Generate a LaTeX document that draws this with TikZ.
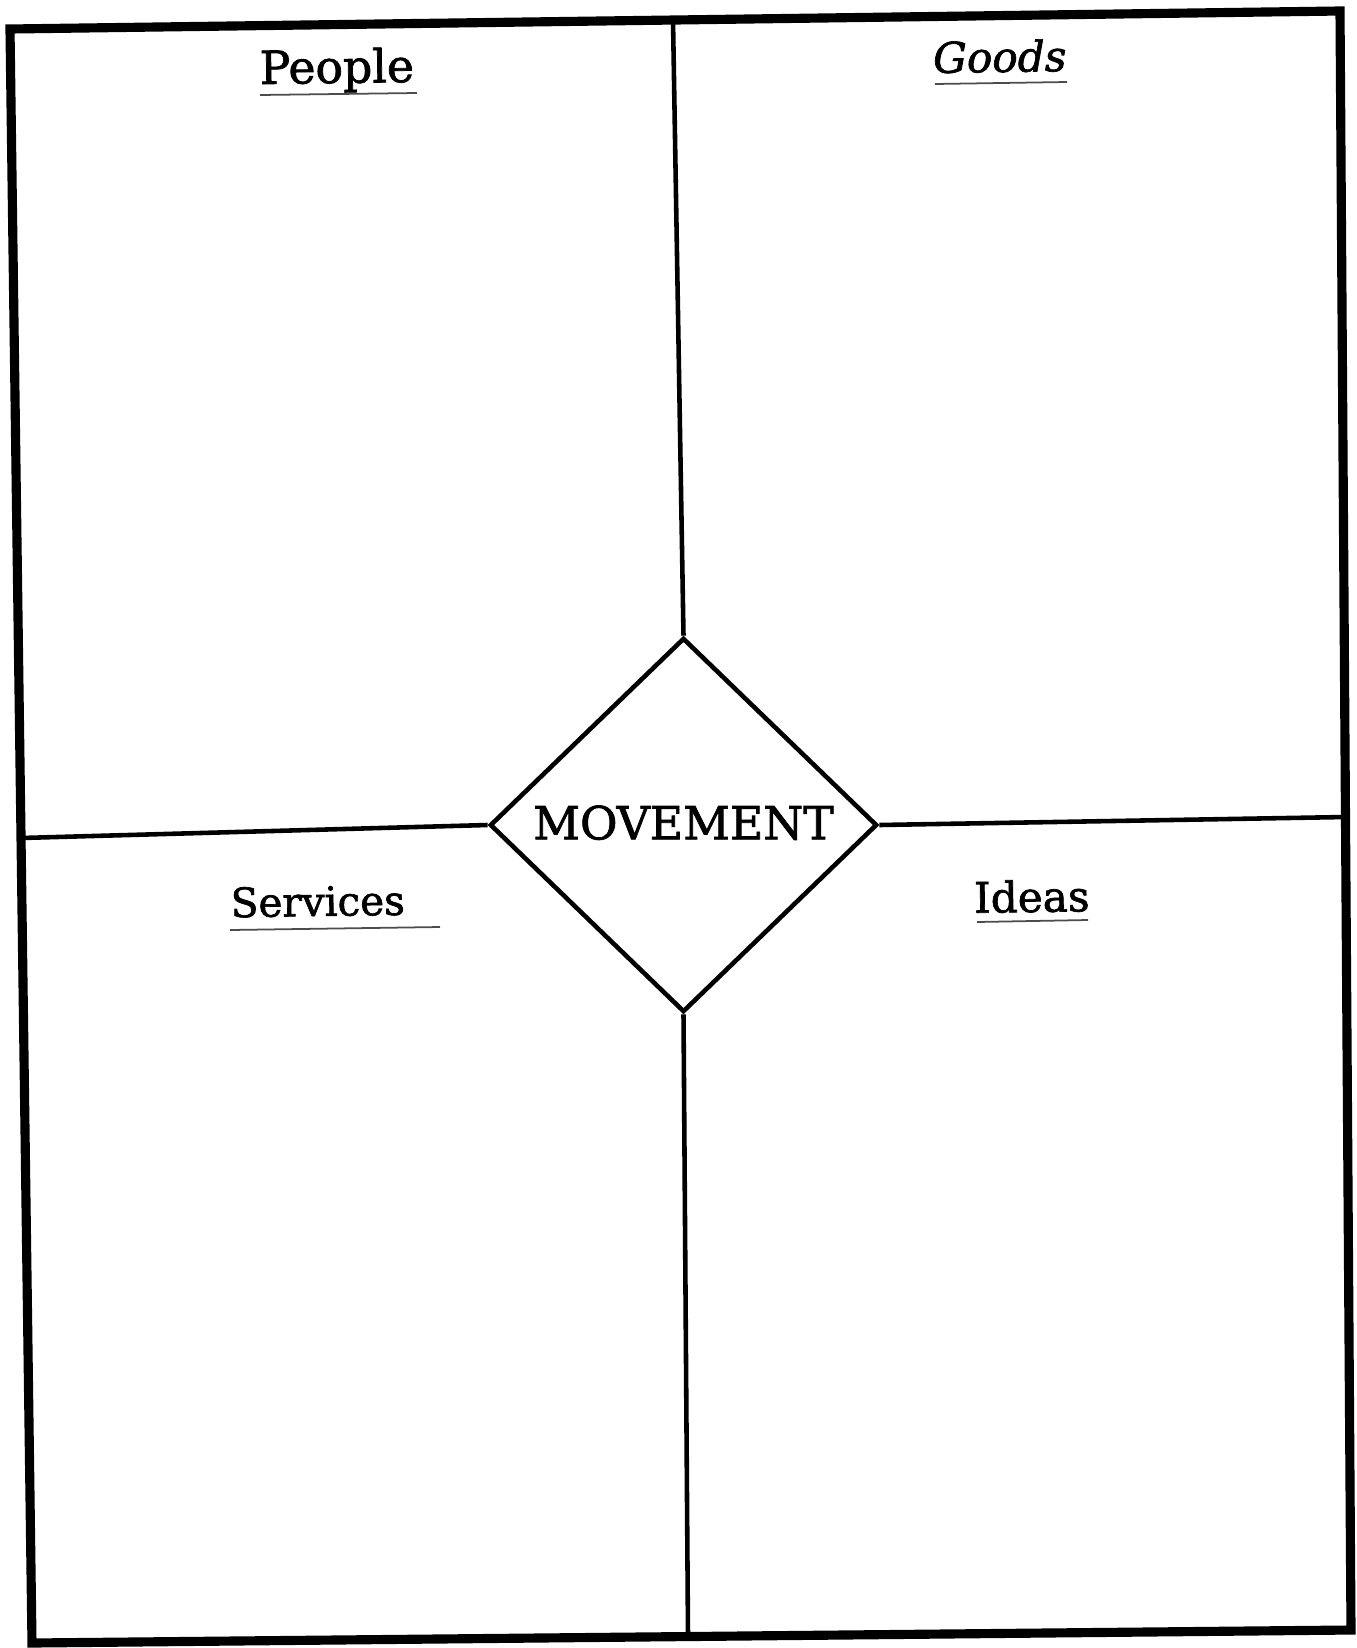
\documentclass[tikz,border=0pt]{standalone}
\usepackage{fontspec}
\setmainfont{DejaVu Serif}
\newfontfamily\sheetfont{DejaVu Serif}[FakeBold=1.6]
\newfontfamily\sheetitfont{DejaVu Serif Italic}[FakeBold=1.6]
\usetikzlibrary{shapes.geometric}

\begin{document}
\begin{tikzpicture}[x=0.01cm,y=-0.01cm,
  frame/.style={draw=black,line width=2.6pt,line join=miter},
  divider/.style={draw=black,line width=1.3pt},
  underline/.style={draw=black!70,line width=0.5pt},
  heading/.style={anchor=base,inner sep=0pt,rotate=0.8}]
\useasboundingbox (0,0) rectangle (1356,1648);
\coordinate (frame-tl) at (10,29);
\coordinate (frame-tr) at (1340,11);
\coordinate (frame-br) at (1351,1630);
\coordinate (frame-bl) at (32,1643);
\path[frame] (frame-tl) -- (frame-tr) -- (frame-br) -- (frame-bl) -- cycle;
\node[diamond,draw=black,line width=1.3pt,minimum width=3.87cm,minimum height=3.74cm,inner sep=0pt,font=\sheetfont\fontsize{13}{15}\selectfont] (move) at (683.5,825) {\raisebox{1.5pt}{MOVEMENT}};
\coordinate (divider-top) at (673,20);
\coordinate (divider-left) at (21,838);
\coordinate (divider-right) at (1346,817);
\coordinate (divider-bottom) at (688,1636);
\path[divider] (divider-top) -- (move.north);
\path[divider] (divider-left) -- (move.west);
\path[divider] (move.east) -- (divider-right);
\path[divider] (move.south) -- (divider-bottom);
\node[heading,font=\sheetfont\fontsize{13}{15}\selectfont] (people) at (337,83) {People};
\path[underline] (260,95) -- (417,93);
\node[heading,font=\sheetitfont\fontsize{12}{14}\selectfont] (goods) at (1000,72) {Goods};
\path[underline] (935,84) -- (1067,82);
\node[heading,font=\sheetfont\fontsize{11.5}{14}\selectfont] (services) at (318,916) {Services};
\path[underline] (230,930) -- (440,927);
\node[heading,font=\sheetfont\fontsize{12}{14}\selectfont] (ideas) at (1032,912) {Ideas};
\path[underline] (977,922) -- (1088,920);
\end{tikzpicture}
\end{document}
